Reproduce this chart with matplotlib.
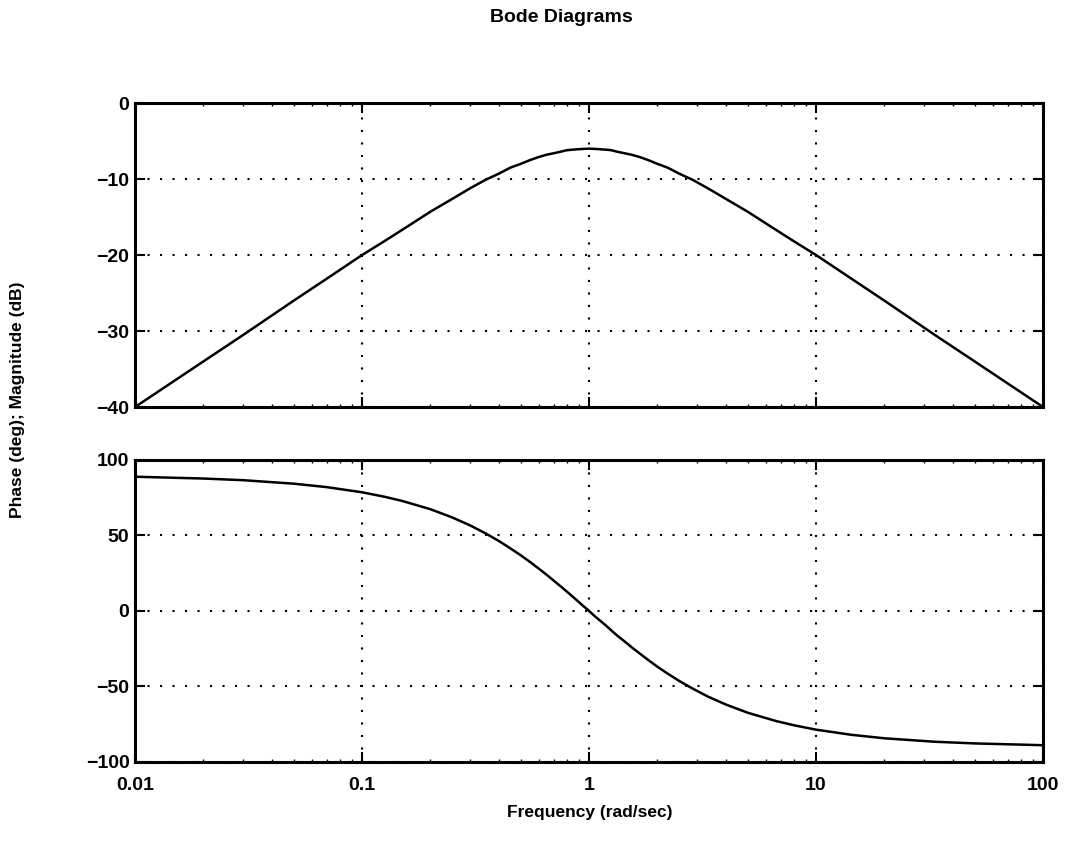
import matplotlib
matplotlib.use('Agg')
import matplotlib.pyplot as plt

plt.rcParams['font.family'] = ['Liberation Sans', 'DejaVu Sans']
plt.rcParams['font.weight'] = 'bold'

# values
freq = [0.01, 0.02, 0.03, 0.05, 0.07, 0.1, 0.125, 0.15, 0.2, 0.25, 0.3, 0.35, 0.4, 0.45, 0.5,
        0.55, 0.6, 0.65, 0.7, 0.75, 0.8, 0.85, 0.9, 0.95, 1.0, 1.05, 1.11, 1.18, 1.25, 1.33,
        1.43, 1.54, 1.67, 1.82, 2.0, 2.22, 2.5, 2.86, 3.33, 4.0, 5.0, 6.67, 8.0, 10.0, 14.3,
        20.0, 33.3, 50.0, 100.0]
mag_db = [-40.0, -34.0, -30.5, -26.0, -23.1, -20.0, -18.2, -16.7, -14.3, -12.6, -11.2, -10.1, -9.3, -8.5, -8.0,
          -7.5, -7.1, -6.8, -6.6, -6.4, -6.2, -6.13, -6.07, -6.03, -6.0, -6.03, -6.07, -6.13, -6.2, -6.4,
          -6.6, -6.8, -7.1, -7.5, -8.0, -8.5, -9.3, -10.1, -11.2, -12.6, -14.3, -16.7, -18.2, -20.0, -23.1,
          -26.0, -30.5, -34.0, -40.0]
phase_deg = [88.9, 87.7, 86.6, 84.3, 82.0, 78.6, 75.7, 72.9, 67.4, 61.9, 56.6, 51.4, 46.4, 41.5, 36.9,
             32.4, 28.1, 24.0, 20.0, 16.3, 12.7, 9.3, 6.0, 2.9, 0.0, -2.9, -6.0, -9.3, -12.7, -16.3,
             -20.0, -24.0, -28.1, -32.4, -36.9, -41.5, -46.4, -51.4, -56.6, -61.9, -67.4, -72.9, -75.7, -78.6, -82.0,
             -84.3, -86.6, -87.7, -88.9]

xticks = [0.01, 0.1, 1, 10, 100]
xticklabels = ['0.01', '0.1', '1', '10', '100']
mag_ticks = [-40, -30, -20, -10, 0]
phase_ticks = [-100, -50, 0, 50, 100]

fig = plt.figure(figsize=(10.65, 8.51), dpi=100)
ax1 = fig.add_axes([0.1268, 0.5217, 0.8526, 0.3572])
ax2 = fig.add_axes([0.1268, 0.1046, 0.8526, 0.3549])

for ax, y, yt in [(ax1, mag_db, mag_ticks), (ax2, phase_deg, phase_ticks)]:
    ax.semilogx(freq, y, color='black', lw=1.8)
    ax.set_xlim(0.01, 100)
    ax.set_ylim(yt[0], yt[-1])
    ax.set_yticks(yt)
    ax.set_yticklabels([str(v).replace('-', '\u2212') for v in yt])
    ax.set_xticks(xticks)
    ax.grid(True, which='major', color='black', linestyle=(0, (1, 5)), lw=1.5)
    ax.tick_params(which='both', direction='in', top=True, right=True, labelsize=14, width=1.5)
    ax.tick_params(which='major', length=7)
    ax.tick_params(axis='y', which='major', pad=4)
    ax.tick_params(axis='x', which='major', pad=11)
    ax.tick_params(which='minor', length=2.5, width=1)
    for s in ax.spines.values():
        s.set_linewidth(2.2)

ax1.set_xticklabels([])
ax2.set_xticklabels(xticklabels)

fig.text(561 / 1065, 1 - 17 / 851, 'Bode Diagrams', ha='center', va='center', fontsize=14, weight='bold')
fig.text(18 / 1065, 1 - 400 / 851, 'Phase (deg); Magnitude (dB)', rotation=90, ha='center', va='center',
         fontsize=12.5, weight='bold')
fig.text(590 / 1065, 1 - 812 / 851, 'Frequency (rad/sec)', ha='center', va='center', fontsize=12.5, weight='bold')

fig.savefig('out.png', dpi=100)
